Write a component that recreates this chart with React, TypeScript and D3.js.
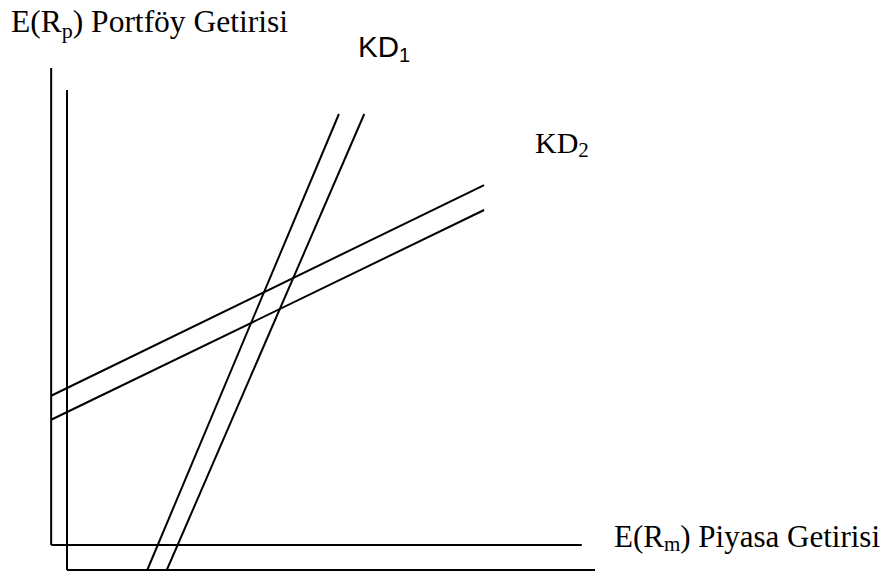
import React from "react";
import * as d3 from "d3";

// Conceptual plot units: inner frame origin at (0,0), top/right ends at 100.
const width = 893;
const height = 572;

// Double axis frame (inner and offset outer line)
const innerAxisV = [[0, 0], [0, 100]];
const innerAxisH = [[0, 0], [100, 0]];
const outerAxisV = [[-3.0, 5.2], [-3.0, 104.6]];
const outerAxisH = [[-3.0, 5.2], [97.5, 5.2]];

// KD1: steep pair of characteristic lines
const kd1Lines = [
  [[15.2, 0], [51.5, 95.0]],
  [[18.9, 0], [56.3, 95.0]],
];

// KD2: shallow pair of characteristic lines
const kd2Lines = [
  [[-3.0, 36.3], [79.0, 80.2]],
  [[-3.0, 31.3], [79.0, 75.0]],
];

const yAxisTitle = { main: "E(R", sub: "p", rest: ") Portföy Getirisi" };
const xAxisTitle = { main: "E(R", sub: "m", rest: ") Piyasa Getirisi" };
const kd1Label = { main: "KD", sub: "1" };
const kd2Label = { main: "KD", sub: "2" };

export default function App() {
  const x = d3.scaleLinear().domain([0, 100]).range([67, 595]);
  const y = d3.scaleLinear().domain([0, 100]).range([570, 90]);
  const line = d3
    .line<number[]>()
    .x((d) => x(d[0]))
    .y((d) => y(d[1]));

  const paths = [
    innerAxisV,
    innerAxisH,
    outerAxisV,
    outerAxisH,
    ...kd1Lines,
    ...kd2Lines,
  ];

  const serif = "'Liberation Serif', 'Times New Roman', serif";
  const sans = "'Liberation Sans', Arial, sans-serif";

  return (
    <svg
      width={width}
      height={height}
      style={{ position: "absolute", left: 0, top: 0, background: "#fff" }}
    >
      {paths.map((p, i) => (
        <path
          key={i}
          d={line(p as number[][]) || ""}
          fill="none"
          stroke="#000"
          strokeWidth={2}
        />
      ))}

      <text x={11} y={32} fontFamily={serif} fontSize={31.5} fill="#000">
        {yAxisTitle.main}
        <tspan fontSize={22} dy={6}>{yAxisTitle.sub}</tspan>
        <tspan dy={-6}>{yAxisTitle.rest}</tspan>
      </text>

      <text x={614} y={547} fontFamily={serif} fontSize={31} fill="#000">
        {xAxisTitle.main}
        <tspan fontSize={21} dy={4}>{xAxisTitle.sub}</tspan>
        <tspan dy={-4}>{xAxisTitle.rest}</tspan>
      </text>

      <text x={358} y={57} fontFamily={sans} fontSize={29.5} fill="#000">
        {kd1Label.main}
        <tspan fontSize={20} dy={5}>{kd1Label.sub}</tspan>
      </text>

      <text x={535} y={153} fontFamily={serif} fontSize={30} fill="#000">
        {kd2Label.main}
        <tspan fontSize={21} dy={4}>{kd2Label.sub}</tspan>
      </text>
    </svg>
  );
}
